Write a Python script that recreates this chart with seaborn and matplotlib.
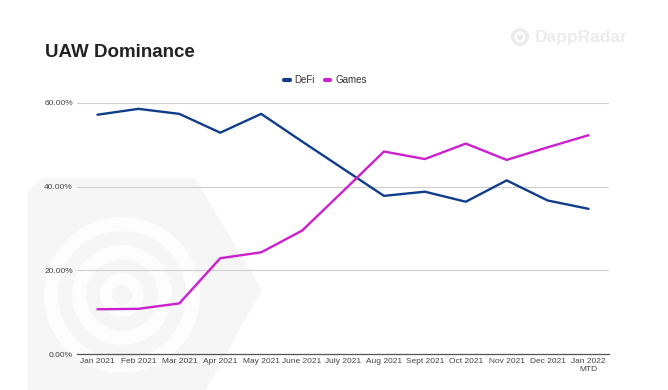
import matplotlib

matplotlib.use("Agg")
import matplotlib.pyplot as plt
import pandas as pd
import seaborn as sns
from matplotlib.patches import Polygon, Circle
from matplotlib.ticker import FuncFormatter

# --- Dane ---
MONTHS = ["Jan 2021", "Feb 2021", "Mar 2021", "Apr 2021", "May 2021",
          "June 2021", "July 2021", "Aug 2021", "Sept 2021", "Oct 2021",
          "Nov 2021", "Dec 2021", "Jan 2022\nMTD"]
DEFI = [57.2, 58.6, 57.4, 52.9, 57.4, 50.8, 44.3, 37.8, 38.8, 36.4, 41.5, 36.7, 34.7]
GAMES = [10.7, 10.8, 12.1, 22.9, 24.3, 29.5, 38.9, 48.4, 46.6, 50.3, 46.4, 49.4, 52.3]

PALETTE = {"DeFi": "#0f3d8a", "Games": "#cc1fd0"}

df = pd.concat([
    pd.DataFrame({"Month": MONTHS, "Share": DEFI, "Series": "DeFi"}),
    pd.DataFrame({"Month": MONTHS, "Share": GAMES, "Series": "Games"}),
])
df["x"] = df["Month"].map({m: i for i, m in enumerate(MONTHS)})

sns.set_theme(style="white")
plt.rcParams["font.family"] = ["Liberation Sans", "DejaVu Sans"]

fig = plt.figure(figsize=(6.68, 3.9), dpi=100)

# Tlo: jasny znak wodny (wspolrzedne w pikselach obrazka)
bg = fig.add_axes([0, 0, 1, 1], zorder=-1)
bg.set_xlim(0, 668)
bg.set_ylim(390, 0)
bg.axis("off")
bg.add_patch(Polygon([(27, 192), (42, 178), (195, 178), (262, 290),
                      (200, 400), (27, 400)], closed=True,
                     facecolor="#f6f6f6", edgecolor="none"))
for r, c in [(78, "#fdfdfd"), (64, "#f6f6f6"), (50, "#fdfdfd"), (36, "#f6f6f6"),
             (22, "#fdfdfd"), (10, "#f6f6f6")]:
    bg.add_patch(Circle((122, 295), r, facecolor=c, edgecolor="none"))
# logo w prawym gornym rogu
bg.add_patch(Circle((520, 37), 9, facecolor="#ececec", edgecolor="none"))
bg.add_patch(Circle((520, 37), 5.5, facecolor="white", edgecolor="none"))
bg.add_patch(Circle((520, 37), 3, facecolor="#ececec", edgecolor="none"))

ax = fig.add_axes([0.1153, 0.0923, 0.7964, 0.6436])
ax.patch.set_alpha(0)

sns.lineplot(data=df, x="x", y="Share", hue="Series", palette=PALETTE,
             linewidth=1.7, ax=ax, legend=False, zorder=3)

ax.set_xlim(-0.5, len(MONTHS) - 0.5)
ax.set_ylim(0, 60)
ax.set_yticks([0, 20, 40, 60])
ax.yaxis.set_major_formatter(FuncFormatter(lambda v, _: f"{v:.2f}%"))
ax.set_xticks(range(len(MONTHS)))
ax.set_xticklabels(MONTHS)
ax.tick_params(axis="both", labelsize=6.0, colors="#444444", length=0, pad=3)
ax.set_xlabel("")
ax.set_ylabel("")
ax.grid(axis="y", color="#cfcfcf", linewidth=0.8)
ax.set_axisbelow(True)
for s in ["top", "right", "left"]:
    ax.spines[s].set_visible(False)
ax.spines["bottom"].set_color("#555555")
ax.spines["bottom"].set_linewidth(0.9)
ax.spines["bottom"].set_zorder(4)

# Legenda
handles = [plt.Line2D([], [], color=PALETTE[k], linewidth=3) for k in PALETTE]
fig.legend(handles, list(PALETTE), loc="center", bbox_to_anchor=(0.487, 0.795),
           ncol=2, frameon=False, fontsize=7, handlelength=0.6,
           handletextpad=0.5, columnspacing=1.0, labelcolor="#333333")

fig.text(0.067, 0.865, "UAW Dominance", fontsize=13.5, fontweight="bold",
         color="#222222", va="center", ha="left")
fig.text(0.94, 0.905, "DappRadar", fontsize=12.5, fontweight="bold",
         color="#ececec", va="center", ha="right")

fig.savefig("out.png", dpi=100)
